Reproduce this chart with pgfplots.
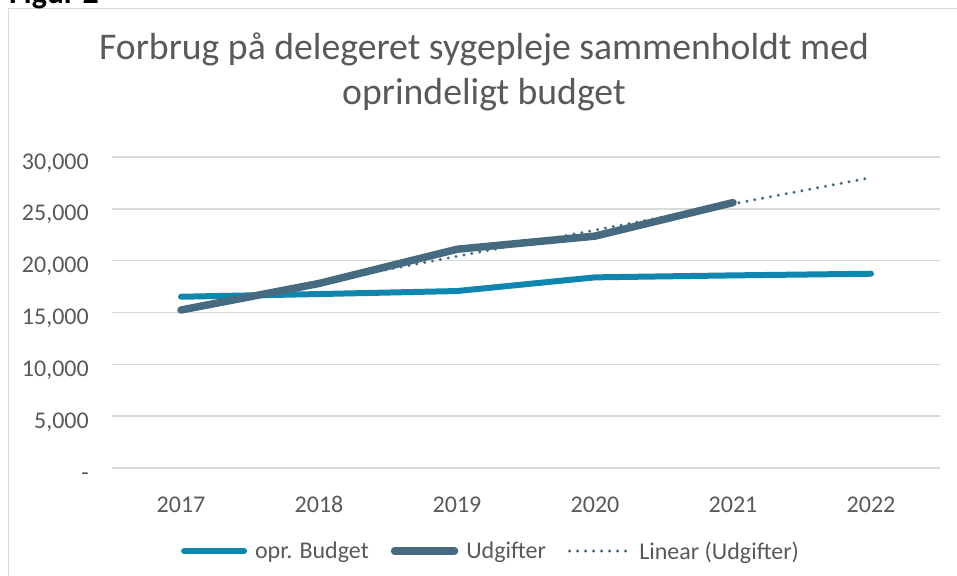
\documentclass[border=0pt]{standalone}
\usepackage{pgfplots}
\pgfplotsset{compat=1.18}
\usepackage{fontspec}
\setmainfont{Carlito}
\definecolor{budget}{HTML}{0E86AD}
\definecolor{udg}{HTML}{466A80}
\definecolor{txt}{HTML}{595959}
\definecolor{gridc}{HTML}{D9D9D9}
\begin{document}
\begin{tikzpicture}[x=1pt,y=1pt]
\clip (0,0) rectangle (957,-575);
\fill[white] (0,0) rectangle (957,-575);
\draw[gridc, line width=1.5pt] (8.5,-600) -- (8.5,-8.5) -- (980,-8.5);
\node[anchor=base west, inner sep=0, font=\fontsize{32}{38}\selectfont\bfseries] at (9,-3.5) {Figur 2};
\node[anchor=base, inner sep=0, text=txt, font=\fontsize{37.7}{45}\selectfont] at (484,-60) {Forbrug på delegeret sygepleje sammenholdt med};
\node[anchor=base, inner sep=0, text=txt, font=\fontsize{37.7}{45}\selectfont] at (484,-104) {oprindeligt budget};
\begin{axis}[
  at={(112pt,-468pt)}, anchor=south west,
  scale only axis, width=828pt, height=311pt,
  xmin=0.5, xmax=6.5, ymin=0, ymax=30000,
  axis line style={draw=none},
  tick style={draw=none},
  xtick={1,2,3,4,5,6},
  xticklabels={2017,2018,2019,2020,2021,2022},
  ytick={0,5000,10000,15000,20000,25000,30000},
  yticklabels={-,{5,000},{10,000},{15,000},{20,000},{25,000},{30,000}},
  scaled y ticks=false,
  /pgf/number format/assume math mode=true,
  ymajorgrids, major grid style={gridc, line width=1.5pt},
  ticklabel style={text=txt, font=\fontsize{24}{29}\selectfont, inner sep=0},
  yticklabel style={anchor=base east, xshift=-23pt, yshift=-12pt},
  xticklabel style={anchor=base, yshift=-44pt},
  clip=false,
  legend columns=3,
  legend style={at={(0.4565,-0.267)}, anchor=center, draw=none, fill=none,
    inner sep=0pt, text=txt, font=\fontsize{24}{29}\selectfont,
    nodes={inner sep=0pt},
    /tikz/every odd column/.append style={column sep=8pt},
    /tikz/every even column/.append style={column sep=22pt}},
  legend cell align=left,
  legend image code/.code={\draw[#1] (3pt,0pt) -- (63pt,0pt);},
]
\addplot[budget, line width=6pt, line cap=round, line join=round] coordinates {
 (1,16520) (2,16780) (3,17070) (4,18390) (5,18580) (6,18740)};
\addlegendentry{opr. Budget}
\addplot[udg, line width=7.5pt, line cap=round, line join=round] coordinates {
 (1,15240) (2,17800) (3,21100) (4,22370) (5,25600)};
\addlegendentry{Udgifter}
\addplot[udg, line width=3.3pt, line cap=round, dash pattern=on 0pt off 8pt] coordinates {
 (1,15360) (6,28010)};
\addlegendentry{Linear (Udgifter)}
\end{axis}
\end{tikzpicture}
\end{document}
